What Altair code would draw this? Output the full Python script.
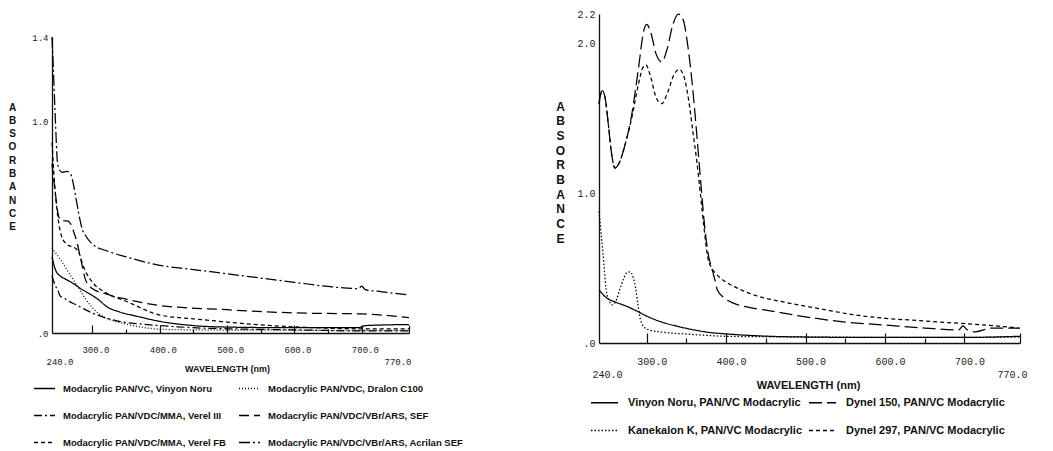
import altair as alt
import pandas as pd

# ---------------- left panel: six modacrylic spectra ----------------
# legend fills column by column, so names are listed column-wise
left_names = [
    "Modacrylic PAN/VC, Vinyon Noru",
    "Modacrylic PAN/VDC/MMA, Verel III",
    "Modacrylic PAN/VDC/MMA, Verel FB",
    "Modacrylic PAN/VDC, Dralon C100",
    "Modacrylic PAN/VDC/VBr/ARS, SEF",
    "Modacrylic PAN/VDC/VBr/ARS, Acrilan SEF",
]
left_dashes = [[1, 0], [8, 3, 2, 3], [4, 3], [1, 2], [10, 5], [11, 3, 2, 3]]

vinyon_nm = [240, 245, 252, 260, 271, 285, 296, 310, 321, 340, 365, 400, 450, 500, 600, 695, 705, 770]
vinyon_ab = [0.36, 0.30, 0.27, 0.255, 0.235, 0.205, 0.185, 0.155, 0.125, 0.10, 0.08, 0.055, 0.035, 0.028, 0.025, 0.025, 0.035, 0.04]

dralon_nm = [240, 252, 262, 270, 282, 290, 300, 310, 322, 340, 360, 386, 420, 500, 600, 700, 770]
dralon_ab = [0.40, 0.35, 0.30, 0.26, 0.20, 0.16, 0.12, 0.09, 0.068, 0.05, 0.035, 0.022, 0.016, 0.014, 0.013, 0.012, 0.012]

verel3_nm = [240, 243, 247, 249, 252, 258, 265, 275, 285, 296, 321, 345, 370, 400, 450, 500, 600, 700, 770]
verel3_ab = [0.27, 0.24, 0.21, 0.20, 0.175, 0.165, 0.15, 0.135, 0.118, 0.10, 0.07, 0.052, 0.043, 0.035, 0.025, 0.02, 0.015, 0.01, 0.01]

sef_nm = [240, 245, 250, 255, 262, 267, 272, 277, 282, 290, 300, 320, 350, 400, 500, 600, 700, 770]
sef_ab = [0.80, 0.66, 0.55, 0.53, 0.53, 0.52, 0.48, 0.43, 0.36, 0.25, 0.21, 0.185, 0.16, 0.13, 0.11, 0.095, 0.09, 0.073]

verelfb_nm = [240, 245, 250, 255, 262, 268, 275, 280, 285, 290, 300, 320, 350, 400, 450, 500, 550, 600, 700, 770]
verelfb_ab = [0.90, 0.66, 0.52, 0.45, 0.42, 0.41, 0.40, 0.38, 0.33, 0.29, 0.24, 0.19, 0.15, 0.085, 0.067, 0.052, 0.038, 0.029, 0.02, 0.02]

acrilan_nm = [240, 242, 245, 248, 250, 255, 262, 268, 272, 276, 280, 285, 290, 300, 320, 350, 400, 450, 500, 550, 600, 650, 695, 700, 705, 730, 770]
acrilan_ab = [1.40, 1.25, 1.01, 0.81, 0.78, 0.76, 0.765, 0.75, 0.70, 0.63, 0.56, 0.49, 0.46, 0.42, 0.39, 0.36, 0.32, 0.30, 0.28, 0.26, 0.24, 0.22, 0.21, 0.222, 0.205, 0.195, 0.18]

# ---------------- right panel: four PAN/VC modacrylics ----------------
right_names = [
    "Vinyon Noru, PAN/VC Modacrylic",
    "Kanekalon K, PAN/VC Modacrylic",
    "Dynel 150, PAN/VC Modacrylic",
    "Dynel 297, PAN/VC Modacrylic",
]
right_dashes = [[1, 0], [1.5, 2], [13, 5], [4, 3]]

noru_nm = [240, 250, 260, 275, 289, 300, 319, 340, 360, 380, 402, 454, 500, 600, 700, 770]
noru_ab = [0.355, 0.30, 0.275, 0.245, 0.21, 0.18, 0.14, 0.11, 0.087, 0.07, 0.06, 0.045, 0.04, 0.037, 0.037, 0.045]

dynel150_nm = [240, 244, 248, 252, 256, 260, 266, 273, 281, 290, 296, 300, 305, 312, 319, 326, 333, 340, 346, 352, 358, 363, 368, 373, 378, 382, 386, 389, 398, 410, 432, 450, 500, 550, 600, 650, 693, 698, 703, 714, 734, 770]
dynel150_ab = [1.60, 1.69, 1.63, 1.45, 1.26, 1.17, 1.21, 1.33, 1.52, 1.85, 2.08, 2.13, 2.08, 1.93, 1.88, 1.97, 2.13, 2.20, 2.16, 1.98, 1.70, 1.40, 1.08, 0.78, 0.58, 0.50, 0.42, 0.355, 0.30, 0.265, 0.235, 0.22, 0.175, 0.14, 0.12, 0.10, 0.087, 0.115, 0.09, 0.075, 0.10, 0.10]

kanekalon_nm = [240, 245, 249, 253, 257, 262, 266, 271, 275, 279, 283, 286, 289, 292, 298, 305, 317, 350, 400, 500, 600, 700, 770]
kanekalon_ab = [0.88, 0.60, 0.36, 0.28, 0.255, 0.29, 0.355, 0.43, 0.47, 0.475, 0.44, 0.37, 0.26, 0.16, 0.10, 0.085, 0.074, 0.06, 0.045, 0.04, 0.038, 0.038, 0.04]

dynel297_nm = [240, 244, 248, 252, 256, 260, 266, 273, 281, 290, 295, 299, 305, 312, 319, 326, 334, 341, 347, 353, 358, 363, 368, 372, 377, 382, 386, 394, 411, 436, 476, 517, 559, 601, 643, 684, 727, 768]
dynel297_ab = [1.60, 1.69, 1.63, 1.45, 1.26, 1.17, 1.21, 1.33, 1.50, 1.74, 1.84, 1.86, 1.78, 1.64, 1.60, 1.67, 1.79, 1.83, 1.78, 1.62, 1.42, 1.22, 0.98, 0.78, 0.57, 0.50, 0.47, 0.43, 0.375, 0.32, 0.27, 0.23, 0.19, 0.165, 0.15, 0.135, 0.12, 0.10]

x_ticks = [300, 350, 400, 450, 500, 550, 600, 650, 700, 770]
x_labels = [240, 300, 400, 500, 600, 700, 770]


def long_table(names, pairs):
    frames = []
    for name, (nm, ab) in zip(names, pairs):
        frames.append(pd.DataFrame({"nm": nm, "ab": ab, "series": name}))
    return pd.concat(frames, ignore_index=True)


left_df = long_table(
    ["Modacrylic PAN/VC, Vinyon Noru", "Modacrylic PAN/VDC, Dralon C100", "Modacrylic PAN/VDC/MMA, Verel III",
     "Modacrylic PAN/VDC/VBr/ARS, SEF", "Modacrylic PAN/VDC/MMA, Verel FB",
     "Modacrylic PAN/VDC/VBr/ARS, Acrilan SEF"],
    [(vinyon_nm, vinyon_ab), (dralon_nm, dralon_ab), (verel3_nm, verel3_ab),
     (sef_nm, sef_ab), (verelfb_nm, verelfb_ab), (acrilan_nm, acrilan_ab)])
right_df = long_table(
    ["Vinyon Noru, PAN/VC Modacrylic", "Dynel 150, PAN/VC Modacrylic",
     "Kanekalon K, PAN/VC Modacrylic", "Dynel 297, PAN/VC Modacrylic"],
    [(noru_nm, noru_ab), (dynel150_nm, dynel150_ab), (kanekalon_nm, kanekalon_ab), (dynel297_nm, dynel297_ab)])

W, H = 1053, 451
MONO = "Liberation Mono"
SANS = "Liberation Sans"
LABEL_EXPR_X = ("(datum.value == 240 || datum.value == 770) ? ['', format(datum.value, '.1f')]"
                " : format(datum.value, '.1f')")
LABEL_EXPR_Y = "datum.value == 0 ? '.0' : format(datum.value, '.1f')"


def panel(df, names, dashes, x_range, y_top, y_bottom, y_max, y_values,
          tick_big, tick_small, mono_size, sans_size, title_x, title_y,
          ytitle_x, ytitle_y, ytitle_lh, label_pad, label_lh, label_shift,
          legend_x, legend_y, sym_size, legend_font, legend_offset, col_pad, row_pad):
    x_scale = alt.Scale(domain=[240, 770], range=x_range, nice=False, zero=False)
    y_scale = alt.Scale(domain=[0, y_max], range=[y_bottom, y_top], nice=False, zero=False)

    lines = alt.Chart(df).mark_line(color="black", strokeWidth=1.25, interpolate="monotone").encode(
        x=alt.X("nm:Q", scale=x_scale, axis=alt.Axis(
            orient="top", offset=-y_bottom, values=x_ticks, labels=False, title=None, grid=False,
            domainColor="#111", domainWidth=1.3, tickColor="#111", tickWidth=1.2,
            tickSize={"condition": {"test": "datum.value % 100 == 0 || datum.value == 770",
                                    "value": tick_big}, "value": tick_small})),
        y=alt.Y("ab:Q", scale=y_scale, axis=alt.Axis(
            orient="left", offset=-x_range[0], values=y_values, ticks=False, grid=False,
            domainColor="#111", domainWidth=1.3, labelExpr=LABEL_EXPR_Y, labelFont=MONO,
            labelFontSize=mono_size, labelColor="#222", labelPadding=4,
            title=list("ABSORBANCE"), titleAngle=0, titleAlign="center", titleBaseline="top",
            titleX=ytitle_x, titleY=ytitle_y, titleLineHeight=ytitle_lh, titleFont=SANS,
            titleFontWeight="bold", titleFontSize=sans_size + 1, titleColor="#111")),
        strokeDash=alt.StrokeDash("series:N", scale=alt.Scale(domain=names, range=dashes), legend=alt.Legend(
            title=None, orient="none", legendX=legend_x, legendY=legend_y, columns=2,
            symbolType="stroke", symbolSize=sym_size, symbolStrokeWidth=1.3, symbolStrokeColor="black",
            labelFont=SANS, labelFontWeight="bold", labelFontSize=legend_font, labelColor="#111",
            labelOffset=legend_offset, labelLimit=400, columnPadding=col_pad, rowPadding=row_pad,
            padding=0)),
    )

    shift_first, shift_mid, shift_last = label_shift
    labels = alt.Chart(df).mark_point(opacity=0).encode(
        x=alt.X("nm:Q", scale=x_scale, axis=alt.Axis(
            orient="bottom", offset=-(H - y_bottom), values=x_labels, domain=False, ticks=False, grid=False,
            labelExpr=LABEL_EXPR_X, labelFont=MONO, labelFontSize=mono_size, labelColor="#222",
            labelBaseline="top", labelPadding=label_pad, labelLineHeight=label_lh, labelOverlap=False,
            labelBound=False,
            labelOffset={"condition": [{"test": "datum.value == 240", "value": shift_first},
                                       {"test": "datum.value == 770", "value": shift_last}],
                         "value": shift_mid},
            title="WAVELENGTH (nm)", titleX=title_x, titleY=title_y,
            titleBaseline="middle", titleAlign="center", titleFont=SANS, titleFontWeight="bold",
            titleFontSize=sans_size, titleColor="#111")),
        y=alt.Y("ab:Q", scale=y_scale, axis=None),
    )
    return lines, labels


left_lines, left_labels = panel(
    left_df, left_names, left_dashes, x_range=[52, 409], y_top=37, y_bottom=333, y_max=1.4,
    y_values=[0, 1.0, 1.4], tick_big=8, tick_small=4, mono_size=9, sans_size=9,
    title_x=227, title_y=35, ytitle_x=-40, ytitle_y=102, ytitle_lh=13.3,
    label_pad=12, label_lh=12, label_shift=(-6, 3, 2), legend_x=33, legend_y=377, sym_size=441,
    legend_font=9.5, legend_offset=7, col_pad=10, row_pad=11)

right_lines, right_labels = panel(
    right_df, right_names, right_dashes, x_range=[599, 1020], y_top=14, y_bottom=343, y_max=2.2,
    y_values=[0, 1.0, 2.0, 2.2], tick_big=10, tick_small=5, mono_size=10, sans_size=11,
    title_x=808, title_y=42, ytitle_x=-39, ytitle_y=101, ytitle_lh=14.67,
    label_pad=13, label_lh=13, label_shift=(-7, 5, 7), legend_x=590, legend_y=388, sym_size=729,
    legend_font=11, legend_offset=9, col_pad=3, row_pad=8)

chart = alt.layer(left_lines, left_labels, right_lines, right_labels).resolve_scale(
    x="independent", y="independent", strokeDash="independent"
).properties(
    width=W, height=H, padding=0, autosize=alt.AutoSizeParams(type="none"), background="white"
).configure_view(stroke=None)

chart.save("out.html", embed_options={"renderer": "svg", "actions": False})
